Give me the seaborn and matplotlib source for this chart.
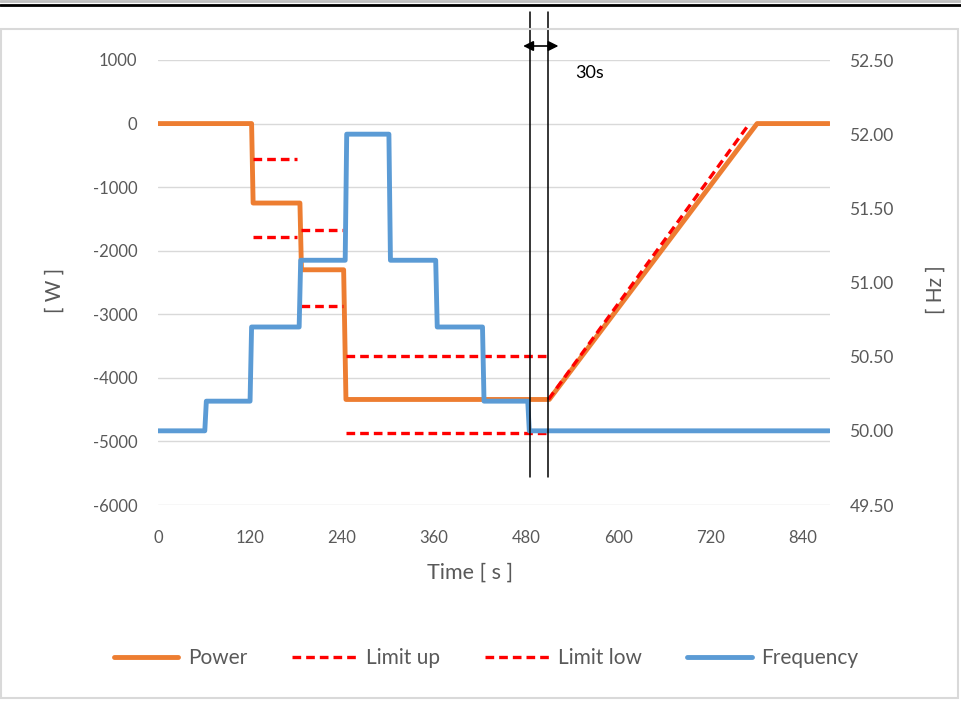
import numpy as np
import pandas as pd
import matplotlib
matplotlib.use("Agg")
import matplotlib.pyplot as plt
import seaborn as sns
from matplotlib.lines import Line2D
from matplotlib.patches import Rectangle
import matplotlib.transforms as mtrans

# ---- data ----
power_t = [0, 122, 124, 185, 187, 242, 245, 510, 781, 875]
power_w = [0, 0, -1250, -1250, -2300, -2300, -4340, -4340, 0, 0]

# Limit up segments (segment id, time, value)
lim_up_seg = [1, 1, 2, 2, 3, 3, 4, 4]
lim_up_t = [124, 181, 186, 241, 245, 509, 509, 771]
lim_up_w = [-560, -560, -1680, -1680, -3660, -3660, -4340, 0]

lim_low_seg = [1, 1, 2, 2, 3, 3]
lim_low_t = [124, 181, 186, 241, 245, 509]
lim_low_w = [-1780, -1780, -2870, -2870, -4875, -4875]

freq_t = [0, 61, 63, 120, 122, 184, 186, 244, 246, 301, 303, 362, 364, 423, 425, 482, 484, 875]
freq_hz = [50.0, 50.0, 50.2, 50.2, 50.7, 50.7, 51.15, 51.15, 52.0, 52.0,
           51.15, 51.15, 50.7, 50.7, 50.2, 50.2, 50.0, 50.0]

x_ticks = [0, 120, 240, 360, 480, 600, 720, 840]
left_ticks = [1000, 0, -1000, -2000, -3000, -4000, -5000, -6000]
right_ticks = [52.5, 52.0, 51.5, 51.0, 50.5, 50.0, 49.5]
marker_lines_t = [485, 509]

# ---- style ----
sns.set_theme(style="white")
plt.rcParams['font.family'] = ['Lato', 'DejaVu Sans']
TXT = "#595959"
ORANGE = "#ED7D31"
BLUE = "#5B9BD5"
RED = "#FF0000"
GRID = "#D9D9D9"
DASH = (0, (2.6, 1.5))

W, H = 961, 702
fig = plt.figure(figsize=(W / 100, H / 100), dpi=100)
ax = fig.add_axes([158 / W, 1 - 505 / H, 672 / W, 445 / H])
ax2 = ax.twinx()

df_p = pd.DataFrame({"t": power_t, "v": power_w})
df_up = pd.DataFrame({"t": lim_up_t, "v": lim_up_w, "seg": lim_up_seg})
df_low = pd.DataFrame({"t": lim_low_t, "v": lim_low_w, "seg": lim_low_seg})
df_f = pd.DataFrame({"t": freq_t, "v": freq_hz})

lw = 3.5
rlw = 2.4
sns.lineplot(data=df_p, x="t", y="v", ax=ax, color=ORANGE, lw=lw, sort=False,
             estimator=None, solid_capstyle="round", solid_joinstyle="round", zorder=3)
sns.lineplot(data=df_up, x="t", y="v", units="seg", estimator=None, ax=ax, color=RED,
             lw=rlw, sort=False, zorder=4)
sns.lineplot(data=df_low, x="t", y="v", units="seg", estimator=None, ax=ax, color=RED,
             lw=rlw, sort=False, zorder=4)
for l in ax.get_lines()[1:]:
    l.set_linestyle(DASH)
sns.lineplot(data=df_f, x="t", y="v", ax=ax2, color=BLUE, lw=lw, sort=False,
             estimator=None, solid_capstyle="round", solid_joinstyle="round", zorder=3)

ax.set_xlim(0, 876)
ax.set_ylim(-6000, 1000)
ax2.set_ylim(49.5, 52.5)
ax.set_xticks(x_ticks)
ax.set_xticklabels([str(v) for v in x_ticks])
ax.set_yticks(left_ticks)
ax.set_yticklabels([str(v) for v in left_ticks])
ax2.set_yticks(right_ticks)
ax2.set_yticklabels([f"{v:.2f}" for v in right_ticks])
ax.grid(axis="y", color=GRID, lw=1)
ax.grid(axis="x", visible=False)
ax2.grid(False)
for a in (ax, ax2):
    for s in a.spines.values():
        s.set_visible(False)
    a.set_xlabel("")
    a.set_ylabel("")
ax.tick_params(axis="x", length=0, pad=18, labelsize=12, labelcolor=TXT)
ax.tick_params(axis="y", length=0, pad=15, labelsize=12, labelcolor=TXT)
ax2.tick_params(axis="y", length=0, pad=14, labelsize=12.5, labelcolor=TXT)

# axis titles
fig.text(470 / W, 1 - 573 / H, "Time [ s ]", ha="center", va="center", fontsize=15.5, color=TXT)
fig.text(55 / W, 1 - 290 / H, "[ W ]", ha="center", va="center", rotation=90, fontsize=15, color=TXT)
fig.text(936 / W, 1 - 290 / H, "[ Hz ]", ha="center", va="center", rotation=90, fontsize=15, color=TXT)

# vertical marker lines and arrow
tr = mtrans.blended_transform_factory(ax.transData, fig.transFigure)
for tv in marker_lines_t:
    ax2.add_line(Line2D([tv, tv], [1 - 12 / H, 1 - 477 / H], transform=tr, color="black",
                        lw=1.1, clip_on=False, zorder=10))
ax2.annotate("", xy=(476, 1 - 46 / H), xytext=(522, 1 - 46 / H), xycoords=tr, textcoords=tr,
             arrowprops=dict(arrowstyle="<|-|>", color="black", lw=1.2, mutation_scale=15,
                             shrinkA=0, shrinkB=0), annotation_clip=False, zorder=10)
fig.text(590 / W, 1 - 73 / H, "30s", ha="center", va="center", fontsize=13, color="black")

# legend
handles = [Line2D([], [], color=ORANGE, lw=lw, solid_capstyle="round"),
           Line2D([], [], color=RED, lw=rlw, ls=DASH),
           Line2D([], [], color=RED, lw=rlw, ls=DASH),
           Line2D([], [], color=BLUE, lw=lw, solid_capstyle="round")]
fig.legend(handles, ["Power", "Limit up", "Limit low", "Frequency"], loc="center",
           bbox_to_anchor=(486 / W, 1 - 658 / H), ncol=4, frameon=False, fontsize=15,
           labelcolor=TXT, handlelength=3.1, handletextpad=0.45, columnspacing=2.15)

# frame decorations
fig.add_artist(Rectangle((1 / W, 1 - 698 / H), 957 / W, 669 / H, transform=fig.transFigure,
                         fill=False, ec=GRID, lw=1.5))
fig.add_artist(Line2D([0, 1], [1 - 1 / H, 1 - 1 / H], transform=fig.transFigure, color="#BFBFBF", lw=2))
fig.add_artist(Line2D([0, 1], [1 - 4.5 / H, 1 - 4.5 / H], transform=fig.transFigure, color="black", lw=2))

fig.savefig("out.png", dpi=100)
